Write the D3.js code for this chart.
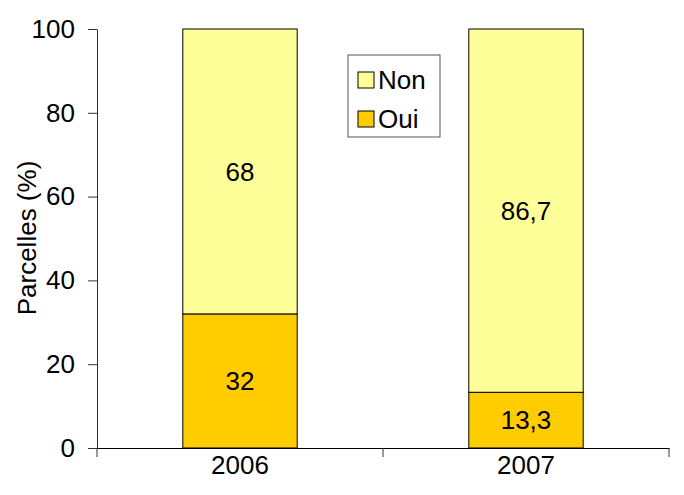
<!DOCTYPE html>
<html>
<head>
<meta charset="utf-8">
<script src="https://cdn.jsdelivr.net/npm/d3@7"></script>
<style>
  body { margin: 0; background: #fff; }
  svg { font-family: 'Liberation Sans', Arial, sans-serif; }
</style>
</head>
<body>
<div class="chart"></div>
<script>
const years = ['2006', '2007'];
const oui = [32, 13.3];
const non = [68, 86.7];
const oui_labels = ['32', '13,3'];
const non_labels = ['68', '86,7'];
const yTicks = [0, 20, 40, 60, 80, 100];

const width = 684;
const height = 495;
const margin = { top: 29, right: 15, bottom: 47, left: 97 };
const fs = 26;

const svg = d3
  .select('.chart')
  .append('svg')
  .attr('width', width)
  .attr('height', height);

const x = d3
  .scaleBand()
  .domain(years)
  .range([margin.left, width - margin.right])
  .padding(0);

const y = d3
  .scaleLinear()
  .domain([0, 100])
  .range([height - margin.bottom, margin.top]);

// y axis
const yAxis = svg
  .append('g')
  .attr('transform', `translate(${margin.left},0)`)
  .call(d3.axisLeft(y).tickValues(yTicks).tickSize(9).tickPadding(13).tickSizeOuter(0));
yAxis.select('.domain').attr('stroke', '#333');
yAxis.selectAll('.tick line').attr('stroke', '#333');
yAxis.selectAll('text').attr('font-size', fs).attr('fill', '#000').attr('font-family', null);

// x axis
const xAxis = svg
  .append('g')
  .attr('transform', `translate(0,${y(0)})`)
  .call(d3.axisBottom(x).tickSize(0).tickPadding(8));
xAxis.select('.domain').attr('stroke', '#000');
xAxis.selectAll('text').attr('font-size', fs).attr('fill', '#000').attr('font-family', null);

// category separators
const seps = [margin.left, x('2007'), width - margin.right];
xAxis
  .selectAll('line.sep')
  .data(seps)
  .join('line')
  .attr('class', 'sep')
  .attr('x1', (d) => d)
  .attr('x2', (d) => d)
  .attr('y1', 0)
  .attr('y2', 9)
  .attr('stroke', '#333');

const barW = x.bandwidth() * 0.4;
const bx = (i) => x(years[i]) + (x.bandwidth() - barW) / 2;

// Oui segments
svg
  .append('g')
  .selectAll('rect')
  .data(oui)
  .join('rect')
  .attr('x', (d, i) => bx(i))
  .attr('y', (d) => y(d))
  .attr('width', barW)
  .attr('height', (d) => y(0) - y(d))
  .attr('fill', '#FFCC00')
  .attr('stroke', '#000')
  .attr('stroke-width', 1);

// Non segments
svg
  .append('g')
  .selectAll('rect')
  .data(non)
  .join('rect')
  .attr('x', (d, i) => bx(i))
  .attr('y', (d, i) => y(oui[i] + d))
  .attr('width', barW)
  .attr('height', (d, i) => y(oui[i]) - y(oui[i] + d))
  .attr('fill', '#FFFF99')
  .attr('stroke', '#000')
  .attr('stroke-width', 1);

// labels
svg
  .append('g')
  .selectAll('text')
  .data(oui)
  .join('text')
  .attr('x', (d, i) => bx(i) + barW / 2)
  .attr('y', (d) => y(d / 2))
  .attr('dy', '0.35em')
  .attr('text-anchor', 'middle')
  .attr('font-size', fs)
  .text((d, i) => oui_labels[i]);

svg
  .append('g')
  .selectAll('text')
  .data(non)
  .join('text')
  .attr('x', (d, i) => bx(i) + barW / 2)
  .attr('y', (d, i) => y(oui[i] + d / 2))
  .attr('dy', '0.35em')
  .attr('text-anchor', 'middle')
  .attr('font-size', fs)
  .text((d, i) => non_labels[i]);

// y label
svg
  .append('text')
  .attr('transform', 'translate(36,238) rotate(-90)')
  .attr('text-anchor', 'middle')
  .attr('font-size', 26)
  .text('Parcelles (%)');

// legend
const legend = svg.append('g').attr('transform', 'translate(348,55)');
legend
  .append('rect')
  .attr('width', 92)
  .attr('height', 82)
  .attr('fill', '#fff')
  .attr('stroke', '#555');

const legendItems = [
  { name: 'Non', color: '#FFFF99' },
  { name: 'Oui', color: '#FFCC00' },
];
const li = legend
  .selectAll('g.item')
  .data(legendItems)
  .join('g')
  .attr('class', 'item')
  .attr('transform', (d, i) => `translate(10,${25 + i * 39})`);
li.append('rect')
  .attr('x', 0)
  .attr('y', -8)
  .attr('width', 16)
  .attr('height', 16)
  .attr('fill', (d) => d.color)
  .attr('stroke', '#000');
li.append('text')
  .attr('x', 20)
  .attr('dy', '0.35em')
  .attr('font-size', fs)
  .text((d) => d.name);
</script>
</body>
</html>
